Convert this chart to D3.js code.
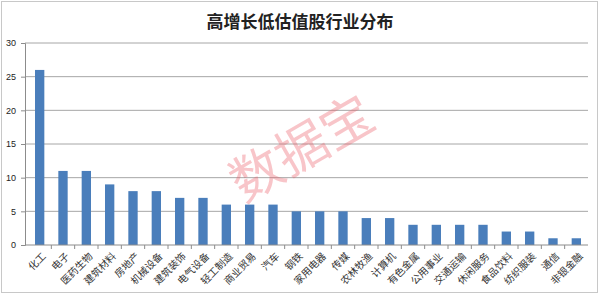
<!DOCTYPE html>
<html>
<head>
<meta charset="utf-8">
<script src="https://cdn.jsdelivr.net/npm/d3@7"></script>
<style>
  body { margin: 0; background: #fff; }
  svg { display: block; }
</style>
</head>
<body>
<svg id="chart"></svg>
<script>
const categories = ["化工", "电子", "医药生物", "建筑材料", "房地产", "机械设备", "建筑装饰", "电气设备",
    "轻工制造", "商业贸易", "汽车", "钢铁", "家用电器", "传媒", "农林牧渔", "计算机",
    "有色金属", "公用事业", "交通运输", "休闲服务", "食品饮料", "纺织服装", "通信", "非银金融"];
const counts = [26, 11, 11, 9, 8, 8, 7, 7, 6, 6, 6, 5, 5, 5, 4, 4, 3, 3, 3, 3, 2, 2, 1, 1];
const yTicks = [0, 5, 10, 15, 20, 25, 30];

const width = 600, height = 296;
const margin = {top: 43, right: 12, bottom: 51, left: 25};

const svg = d3.select("#chart")
    .attr("width", width)
    .attr("height", height);

// outer frame
svg.append("rect")
    .attr("x", 1.5).attr("y", 1.5)
    .attr("width", 596).attr("height", 291)
    .attr("fill", "#fff")
    .attr("stroke", "#c8c8c8");

// title
svg.append("text")
    .attr("x", 300).attr("y", 28)
    .attr("text-anchor", "middle")
    .attr("font-family", "'Noto Sans CJK SC', sans-serif")
    .attr("font-weight", "bold")
    .attr("font-size", 17)
    .attr("fill", "#222")
    .text("高增长低估值股行业分布");

const x = d3.scaleBand(categories, [margin.left + 3, width - margin.right]).paddingInner(0.6).paddingOuter(0.3);
const y = d3.scaleLinear([0, 30], [height - margin.bottom, margin.top]);

// grid lines
svg.append("g")
    .selectAll("line")
    .data(yTicks.slice(1))
    .join("line")
    .attr("x1", margin.left).attr("x2", width - margin.right)
    .attr("y1", d => y(d)).attr("y2", d => y(d))
    .attr("stroke", "#a6a6a6");

// y axis
svg.append("g")
    .attr("transform", `translate(${margin.left},0)`)
    .call(d3.axisLeft(y).tickValues(yTicks).tickSize(4).tickPadding(5))
    .call(g => g.selectAll("path, line").attr("stroke", "#8c8c8c"))
    .call(g => g.selectAll("text")
        .attr("font-family", "'Liberation Sans', Arial, sans-serif")
        .attr("font-size", 9)
        .attr("fill", "#222"));

// bars
svg.append("g")
    .selectAll("rect")
    .data(counts)
    .join("rect")
    .attr("x", (d, i) => x(categories[i]))
    .attr("y", d => y(d))
    .attr("width", x.bandwidth())
    .attr("height", d => y(0) - y(d))
    .attr("fill", "#4a7ebb");

// x axis with ticks between categories
const step = x.step();
const mid = d => x(d) + x.bandwidth() / 2;
const xAxis = svg.append("g")
    .attr("transform", `translate(0,${y(0)})`);
xAxis.append("line")
    .attr("x1", margin.left).attr("x2", width - margin.right)
    .attr("stroke", "#8c8c8c");
xAxis.selectAll("line.tick")
    .data(categories.slice(1))
    .join("line")
    .attr("class", "tick")
    .attr("x1", d => mid(d) - step / 2)
    .attr("x2", d => mid(d) - step / 2)
    .attr("y1", 0).attr("y2", 4)
    .attr("stroke", "#8c8c8c");
xAxis.selectAll("text")
    .data(categories)
    .join("text")
    .attr("transform", d => `translate(${mid(d) + 2},7) rotate(-45)`)
    .attr("text-anchor", "end")
    .attr("dy", "0.7em")
    .attr("font-family", "'Noto Sans CJK SC', sans-serif")
    .attr("font-size", 10)
    .attr("fill", "#333")
    .text(d => d);

// watermark
svg.append("text")
    .attr("transform", "translate(304,152) rotate(-30)")
    .attr("text-anchor", "middle")
    .attr("dominant-baseline", "middle")
    .attr("font-family", "'Noto Sans CJK SC', sans-serif")
    .attr("font-size", 52)
    .attr("fill", "rgba(235,90,100,0.35)")
    .text("数据宝");
</script>
</body>
</html>
